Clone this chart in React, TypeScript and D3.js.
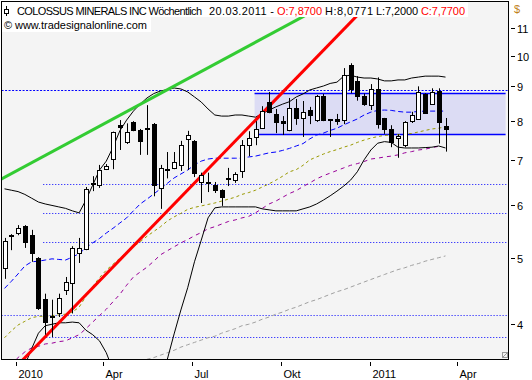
import React from 'react';
import * as d3 from 'd3';

// ---------- DATA ----------
const DAY = 86400000;
const firstBar = Date.UTC(2009, 11, 20);
const barDates: Date[] = d3.range(66).map((i) => new Date(firstBar + i * 7 * DAY));

const opens = [4.84,5.41,5.45,5.58,5.41,5.00,4.35,4.10,4.14,4.49,4.59,5.09,5.16,6.44,6.42,6.78,7.02,7.89,7.44,7.97,7.75,7.80,7.91,6.36,6.78,6.80,6.88,7.52,7.47,6.49,6.49,6.42,6.31,6.56,6.53,6.74,7.36,7.57,7.80,8.53,8.19,7.99,7.75,8.36,8.07,8.30,8.02,8.71,8.05,8.05,8.02,9.68,9.18,8.71,8.44,8.93,8.07,7.79,7.55,7.36,8.00,8.04,8.76,8.46,8.86,7.87];
const highs = [5.36,5.43,5.60,5.60,5.51,5.02,4.43,4.34,4.43,4.69,5.21,5.36,6.38,6.62,6.88,6.90,7.71,8.02,7.93,7.99,7.78,8.44,7.94,6.88,7.19,7.19,7.47,7.73,7.49,6.70,6.70,6.49,6.33,6.81,6.71,7.49,7.72,7.99,8.41,8.83,8.33,8.13,8.65,8.62,8.56,8.39,8.74,8.77,8.05,8.19,9.58,9.74,9.32,8.78,9.07,9.28,8.08,7.88,7.64,7.99,8.25,9.00,8.79,8.94,8.94,8.0771];
const lows = [4.66,5.14,5.41,5.18,4.94,4.19,3.85,3.82,4.09,4.41,4.14,4.92,5.14,6.29,6.36,6.76,6.78,7.24,7.39,7.72,7.12,7.12,6.18,5.92,6.57,6.78,6.74,6.76,6.60,6.04,6.27,6.25,5.98,6.40,6.47,6.58,7.09,7.36,7.78,8.21,7.67,7.62,7.72,7.89,7.57,7.91,7.97,7.99,7.57,7.89,7.91,8.79,8.57,8.42,8.30,7.79,7.65,7.31,7.05,7.31,7.94,8.03,8.21,8.45,7.40,7.20];
const closes = [5.30,5.40,5.55,5.28,5.09,4.22,4.02,4.09,4.36,4.61,5.18,5.18,6.34,6.46,6.76,6.85,7.69,7.83,7.69,7.75,7.47,7.78,6.42,6.80,6.79,6.94,7.36,7.62,6.69,6.65,6.47,6.31,6.17,6.58,6.67,7.36,7.54,7.78,8.27,8.24,7.97,7.94,8.36,8.07,8.24,8.16,8.71,8.02,8.02,7.99,9.37,8.92,8.72,8.47,8.92,7.90,7.79,7.45,7.60,7.97,8.16,8.82,8.23,8.82,7.97,7.77];

// Bollinger bands
const bandUpper = [6.34,6.31,6.28,6.22,6.14,6.06,6.02,5.99,5.96,5.93,5.88,5.84,6.10,6.42,6.76,6.97,7.31,7.73,8.02,8.27,8.47,8.65,8.78,8.86,8.90,8.95,8.92,8.83,8.68,8.53,8.33,8.16,8.13,8.13,8.16,8.16,8.13,8.10,8.20,8.30,8.39,8.47,8.54,8.68,8.77,8.89,8.95,9.01,9.09,9.13,9.32,9.35,9.29,9.26,9.26,9.23,9.17,9.17,9.20,9.20,9.26,9.29,9.32,9.32,9.32,9.29];
const bandLower = [2.91,3.08,3.27,3.47,3.67,3.87,3.97,3.99,4.01,4.01,4.02,4.01,3.91,3.85,3.77,3.62,3.41,3.24,3.13,3.08,3.08,3.13,3.24,3.39,3.54,3.86,4.19,4.52,4.94,5.32,5.74,5.94,5.96,5.96,5.96,5.96,5.96,5.96,5.92,5.90,5.88,5.88,5.88,5.88,5.92,5.96,6.02,6.10,6.19,6.29,6.40,6.53,6.72,7.00,7.24,7.41,7.45,7.43,7.31,7.29,7.29,7.29,7.30,7.31,7.34,7.29];

// moving averages
const maBlue = [4.51,4.62,4.74,4.87,4.94,4.95,4.97,4.99,4.98,4.97,5.02,5.08,5.18,5.27,5.35,5.45,5.54,5.64,5.74,5.88,6.02,6.12,6.23,6.34,6.46,6.58,6.67,6.76,6.88,6.97,7.02,7.04,7.04,7.04,7.04,7.04,7.07,7.09,7.13,7.17,7.19,7.23,7.28,7.34,7.40,7.52,7.62,7.67,7.74,7.80,7.89,7.97,8.05,8.16,8.24,8.29,8.30,8.29,8.26,8.24,8.24,8.26,8.27,8.27,8.27,8.27];
const maOlive = [3.81,3.90,3.98,4.03,4.08,4.10,4.10,4.11,4.12,4.13,4.16,4.23,4.39,4.54,4.68,4.80,4.90,5.00,5.10,5.20,5.29,5.39,5.48,5.57,5.68,5.76,5.83,5.91,5.95,5.98,6.01,6.04,6.08,6.12,6.16,6.22,6.26,6.31,6.38,6.45,6.53,6.62,6.72,6.77,6.87,7.00,7.07,7.14,7.20,7.25,7.31,7.36,7.43,7.49,7.54,7.58,7.61,7.62,7.63,7.65,7.66,7.70,7.74,7.78,7.80,7.84];
const maPurple = [3.41,3.48,3.56,3.63,3.68,3.70,3.73,3.74,3.76,3.77,3.81,3.85,3.93,4.02,4.11,4.20,4.31,4.42,4.56,4.69,4.77,4.85,4.95,5.06,5.13,5.20,5.27,5.33,5.40,5.46,5.53,5.57,5.62,5.67,5.70,5.74,5.77,5.84,5.93,6.02,6.08,6.16,6.24,6.30,6.39,6.47,6.56,6.63,6.69,6.75,6.81,6.87,6.91,6.96,7.02,7.04,7.07,7.09,7.12,7.17,7.20,7.24,7.26,7.30,7.33,null];
const maGray = [null,null,null,null,null,null,null,null,null,null,null,null,null,null,null,null,null,null,null,3.48,3.51,3.54,3.56,3.59,3.62,3.65,3.69,3.72,3.75,3.78,3.81,3.83,3.87,3.90,3.93,3.97,3.99,4.02,4.06,4.09,4.13,4.16,4.20,4.23,4.27,4.31,4.34,4.38,4.42,4.46,4.49,4.53,4.57,4.61,4.65,4.69,4.73,4.77,4.81,4.84,4.88,4.91,4.95,4.98,5.01,5.04];

// horizontal support / resistance levels
const levelPrices = [8.887, 6.444, 5.837, 5.285, 4.118, 3.819];
const levelStarts = ['2009-12-17', '2010-01-29', '2010-01-29', '2010-01-29', '2009-12-17', '2010-01-29'];

// trend lines [date, price]
const redTrend: [string, number][] = [['2010-01-04', 3.486], ['2011-01-06', 12.2]];
const greenTrend: [string, number][] = [['2009-12-16', 6.546], ['2010-11-30', 12.2]];

// trading range box
const boxDates = ['2010-09-04', '2011-05-21'];
const boxPrices = [7.645, 8.787];

// axis
const xTickDates = ['2010-01-01', '2010-04-01', '2010-07-01', '2010-10-01', '2011-01-01', '2011-04-01'];
const xTickLabels = ['2010', 'Apr', 'Jul', 'Okt', '2011', 'Apr'];
const yTicks = [4, 5, 6, 7, 8, 9, 10, 11];

// ---------- CHART ----------
const W = 532;
const H = 380;
const P = { left: 1, top: 1, right: 509, bottom: 360 };
const FONT = 'Liberation Sans, Arial, sans-serif';
const pd = (s: string) => new Date(s + 'T00:00:00Z');

export default function App() {
  const x = d3.scaleUtc().domain([barDates[0], barDates[barDates.length - 1]]).range([4.5, 445.5]);
  const y = d3.scaleLog().domain([3.531, 12.05]).range([P.bottom, P.top]);

  const seriesPath = (vals: (number | null)[]) =>
    d3
      .line<[Date, number | null]>()
      .defined((d) => d[1] != null)
      .x((d) => x(d[0]))
      .y((d) => y(d[1] as number))(vals.map((v, i) => [barDates[i], v] as [Date, number | null])) || '';

  const trendPath = (pts: [string, number][]) =>
    d3
      .line<[string, number]>()
      .x((d) => x(pd(d[0])))
      .y((d) => y(d[1]))(pts) || '';

  const bx0 = x(pd(boxDates[0]));
  const bx1 = x(pd(boxDates[1]));
  const byTop = Math.round(y(boxPrices[1])) + 0.5;
  const byBot = Math.round(y(boxPrices[0])) + 0.5;

  return (
    <svg width={W} height={H} style={{ position: 'absolute', left: 0, top: 0, background: '#fff' }} fontFamily={FONT}>
      <defs>
        <clipPath id="plotClip">
          <rect x={P.left} y={P.top} width={P.right - P.left} height={P.bottom - P.top} />
        </clipPath>
      </defs>
      <rect x={0} y={0} width={W} height={H} fill="#ffffff" />
      <rect x={P.left} y={P.top} width={P.right - P.left} height={P.bottom - P.top} fill="#f4f4f4" />

      <g clipPath="url(#plotClip)">
        {/* range box */}
        <rect x={bx0} y={byTop} width={bx1 - bx0} height={byBot - byTop} fill="#dcdcf4" />

        {/* dotted levels */}
        {levelPrices.map((p, i) => {
          const yy = Math.round(y(p)) + 0.5;
          return (
            <line
              key={'lv' + i}
              x1={x(pd(levelStarts[i]))}
              x2={P.right}
              y1={yy}
              y2={yy}
              stroke="#0000ff"
              strokeWidth={1}
              strokeDasharray={i === 0 ? '2,1.5' : '1,2'}
            />
          );
        })}
        <line x1={bx0} x2={bx1} y1={byTop} y2={byTop} stroke="#0000ff" strokeWidth={1.3} />
        <line x1={bx0} x2={bx1} y1={byBot} y2={byBot} stroke="#0000ff" strokeWidth={1.3} />

        {/* moving averages */}
        <path d={seriesPath(maGray)} fill="none" stroke="#a0a0a0" strokeWidth={1} strokeDasharray="4,3" />
        <path d={seriesPath(maPurple)} fill="none" stroke="#990099" strokeWidth={1} strokeDasharray="4,4" />
        <path d={seriesPath(maOlive)} fill="none" stroke="#999900" strokeWidth={1} strokeDasharray="3,3" />
        <path d={seriesPath(maBlue)} fill="none" stroke="#0000ff" strokeWidth={1} strokeDasharray="5,3" />

        {/* bollinger bands */}
        <path d={seriesPath(bandUpper)} fill="none" stroke="#000" strokeWidth={1} />
        <path d={seriesPath(bandLower)} fill="none" stroke="#000" strokeWidth={1} />

        {/* trend lines */}
        <path d={trendPath(greenTrend)} fill="none" stroke="#33cc33" strokeWidth={3} />
        <path d={trendPath(redTrend)} fill="none" stroke="#ff0000" strokeWidth={3} />

        {/* candles */}
        {barDates.map((d, i) => {
          const cx = Math.round(x(d)) + 0.5;
          const o = opens[i];
          const c = closes[i];
          const top = Math.round(y(Math.max(o, c)));
          const bot = Math.round(y(Math.min(o, c)));
          const up = c >= o;
          return (
            <g key={'c' + i}>
              <line x1={cx} x2={cx} y1={y(highs[i])} y2={y(lows[i])} stroke="#000" strokeWidth={1} />
              {up ? (
                <rect x={cx - 2} y={top + 0.5} width={4} height={Math.max(1, bot - top)} fill="#fff" stroke="#000" strokeWidth={1} />
              ) : (
                <rect x={cx - 2.5} y={top} width={5} height={Math.max(2, bot - top + 1)} fill="#000" />
              )}
            </g>
          );
        })}
      </g>

      {/* frame */}
      <rect x={P.left + 0.5} y={P.top + 0.5} width={P.right - P.left - 1} height={P.bottom - P.top - 1} fill="none" stroke="#000" strokeWidth={1} />

      {/* resize glyph */}
      <rect x={502.5} y={352.5} width={5} height={5} fill="none" stroke="#999" strokeWidth={1} />
      <line x1={503} y1={357} x2={507} y2={353} stroke="#999" strokeWidth={1} />

      {/* right axis */}
      <text x={514} y={13} fontSize={11} fill="#c08020">$</text>
      {yTicks.map((t) => {
        const yy = Math.round(y(t)) + 0.5;
        return (
          <g key={'yt' + t}>
            <line x1={511} x2={515} y1={yy} y2={yy} stroke="#000" strokeWidth={1} />
            <text x={517} y={yy + 4} fontSize={11} fill="#000">{t}</text>
          </g>
        );
      })}

      {/* bottom axis */}
      {xTickDates.map((s, i) => {
        const xx = Math.round(x(pd(s))) + 0.5;
        return (
          <g key={'xt' + i}>
            <line x1={xx} x2={xx} y1={362} y2={366} stroke="#000" strokeWidth={1} />
            <text x={xx + 2} y={378} fontSize={11} fill="#000">{xTickLabels[i]}</text>
          </g>
        );
      })}

      {/* header */}
      <rect x={2} y={2} width={466} height={15} fill="#ffffff" />
      <rect x={2} y={17} width={149} height={15} fill="#ffffff" />
      <line x1={6.5} x2={6.5} y1={6} y2={16} stroke="#000" strokeWidth={1} />
      <rect x={4.5} y={9.5} width={4} height={4} fill="#fff" stroke="#000" strokeWidth={1} />
      <text y={14.5} fontSize={11} fill="#000">
        <tspan x={17} textLength={185}>COLOSSUS MINERALS INC Wöchentlich</tspan>
      </text>
      <text x={209} y={14.5} fontSize={11} fill="#000" textLength={65}>20.03.2011 -</text>
      <text x={277} y={14.5} fontSize={11} fill="#ff0000" textLength={45}>O:7,8700</text>
      <text x={325} y={14.5} fontSize={11} fill="#000" textLength={48}>H:8,0771</text>
      <text x={376} y={14.5} fontSize={11} fill="#000" textLength={42}>L:7,2000</text>
      <text x={421} y={14.5} fontSize={11} fill="#ff0000" textLength={44}>C:7,7700</text>
      <text x={4} y={29} fontSize={11} fill="#000" textLength={143}>© www.tradesignalonline.com</text>
    </svg>
  );
}
